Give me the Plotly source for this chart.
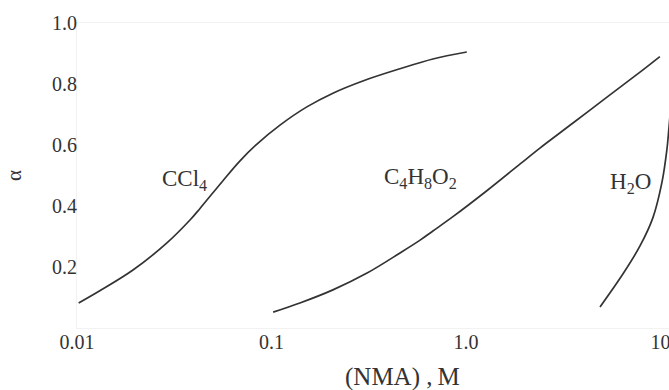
import math
import plotly.graph_objects as go

# ---- data ----
ccl4_x = [0.0102, 0.0131, 0.0194, 0.0290, 0.0381, 0.0429, 0.0563, 0.0689, 0.0842,
          0.111, 0.152, 0.207, 0.295, 0.458, 0.676, 1.01]
ccl4_y = [0.082, 0.122, 0.190, 0.279, 0.354, 0.392, 0.483, 0.548, 0.603,
          0.666, 0.725, 0.770, 0.810, 0.850, 0.882, 0.905]

diox_x = [0.102, 0.140, 0.207, 0.310, 0.458, 0.581, 0.676, 0.857, 1.28,
          1.90, 2.40, 3.55, 5.31, 7.85, 9.93]
diox_y = [0.052, 0.082, 0.125, 0.180, 0.246, 0.288, 0.318, 0.365, 0.450,
          0.538, 0.590, 0.672, 0.757, 0.839, 0.890]

h2o_x = [4.89, 6.41, 7.85, 9.14, 10.19, 10.79, 11.07, 11.5]
h2o_y = [0.069, 0.177, 0.269, 0.361, 0.479, 0.584, 0.659, 0.78]

x_tickvals = [0.01, 0.1, 1, 10]
x_ticktext = ["0.01", "0.1", "1.0", "10"]
y_tickvals = [0.2, 0.4, 0.6, 0.8, 1.0]
y_ticktext = ["0.2", "0.4", "0.6", "0.8", "1.0"]

labels = ["CCl<sub>4</sub>", "C<sub>4</sub>H<sub>8</sub>O<sub>2</sub>", "H<sub>2</sub>O"]
label_x = [0.0359, 0.587, 7.05]
label_y = [0.485, 0.492, 0.475]

ink = "#333333"
serif = "Liberation Serif"

fig = go.Figure()
for xs, ys in [(ccl4_x, ccl4_y), (diox_x, diox_y), (h2o_x, h2o_y)]:
    fig.add_trace(go.Scatter(x=xs, y=ys, mode="lines",
                             line=dict(color=ink, width=1.7, shape="spline", smoothing=1.0),
                             showlegend=False, hoverinfo="skip"))

for t, lx, ly in zip(labels, label_x, label_y):
    fig.add_annotation(x=math.log10(lx), y=ly, xref="x", yref="y", text=t,
                       showarrow=False, font=dict(family=serif, size=23, color=ink))

fig.add_annotation(x=math.log10(0.469), y=-0.16, xref="x", yref="paper",
                   yanchor="middle", text="(NMA) ,\u2009M", showarrow=False,
                   font=dict(family=serif, size=25, color=ink))

fig.update_xaxes(type="log", range=[-2, 1.044], tickvals=x_tickvals, ticktext=x_ticktext,
                 showgrid=False, zeroline=False, ticks="", ticklabeloverflow="allow",
                 ticklabelstandoff=-4,
                 showline=True, linecolor="#f2f2f2", linewidth=1, mirror=True,
                 tickfont=dict(family=serif, size=20, color=ink))
fig.update_yaxes(range=[0, 1.0], tickvals=y_tickvals, ticktext=y_ticktext,
                 showgrid=False, zeroline=False, ticks="", ticklabeloverflow="allow",
                 ticklabelstandoff=-5,
                 showline=True, linecolor="#f2f2f2", linewidth=1, mirror=True,
                 tickfont=dict(family=serif, size=20, color=ink),
                 title=dict(text="α", font=dict(family=serif, size=21, color=ink), standoff=24))

fig.update_layout(width=669, height=390, margin=dict(l=77, r=0, t=23, b=62),
                  plot_bgcolor="white", paper_bgcolor="white")

fig.write_html("out.html")
